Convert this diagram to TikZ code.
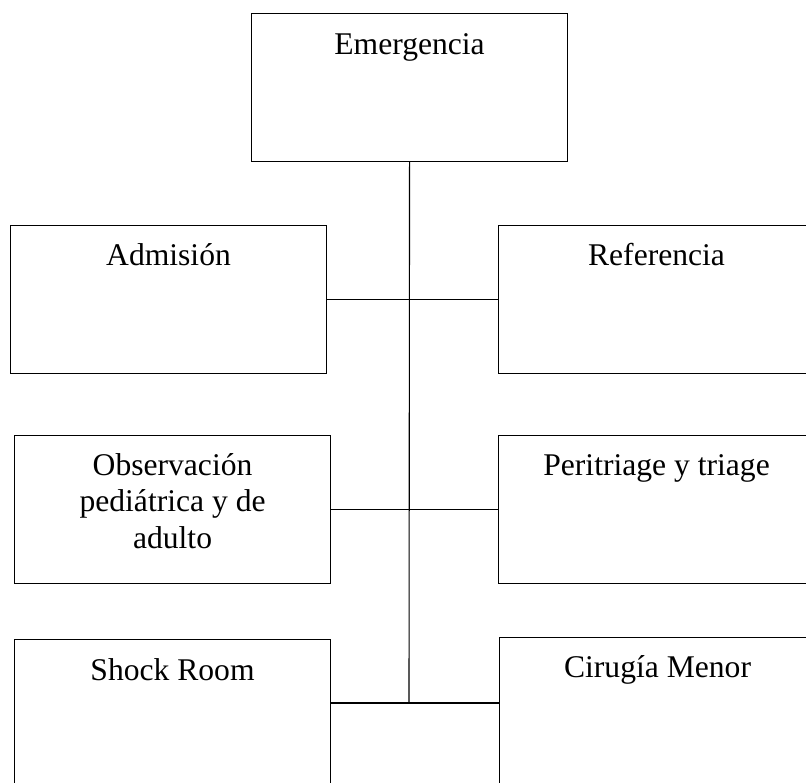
\documentclass[tikz,border=0pt]{standalone}
\usepackage{fontspec}
\setmainfont{Liberation Serif}
\usetikzlibrary{positioning}
\def\boxw{316pt}
\def\boxh{148pt}

\begin{document}
\begin{tikzpicture}[x=1pt, y=-1pt, line width=1.1pt]
	\tikzset{
		unit/.style={draw, minimum width=\boxw, minimum height=\boxh, inner sep=0, anchor=north west},
		lbl/.style={anchor=base, align=center, inner sep=0, font=\fontsize{31.6}{36.4}\selectfont},
	}
	\useasboundingbox (0,0) rectangle (806,782);
	% boxes
	\node[unit] (emg) at (251,13) {};
	\node[unit] (adm) at (10,225) {};
	\node[unit] (ref) at (498,225) {};
	\node[unit] (obs) at (14,435) {};
	\node[unit] (peri) at (498,435) {};
	\node[unit] (shock) at (14,639) {};
	\node[unit] (cir) at (499,637) {};
	% texts (base of a multi-line text is its last line)
	\node[lbl] (temg) at ([yshift=-41pt]emg.north) {Emergencia};
	\node[lbl] (tadm) at ([yshift=-40pt]adm.north) {Admisión};
	\node[lbl] (tref) at ([yshift=-40pt]ref.north) {Referencia};
	\node[lbl] (tobs) at ([yshift=-113pt]obs.north) {Observación\\pediátrica y de\\adulto};
	\node[lbl] (tperi) at ([yshift=-40pt]peri.north) {Peritriage y triage};
	\node[lbl] (tshock) at ([yshift=-41pt]shock.north) {Shock Room};
	\node[lbl] (tcir) at ([yshift=-40pt]cir.north) {Cirugía Menor};
	% connectors
	\coordinate (jn) at (409,703);
	\draw (emg.south) -- (jn);
	\draw (adm.east) -- (ref.west);
	\draw (obs.east) -- (peri.west);
	\draw (shock.east |- jn) -- (cir.west |- jn);
\end{tikzpicture}
\end{document}
